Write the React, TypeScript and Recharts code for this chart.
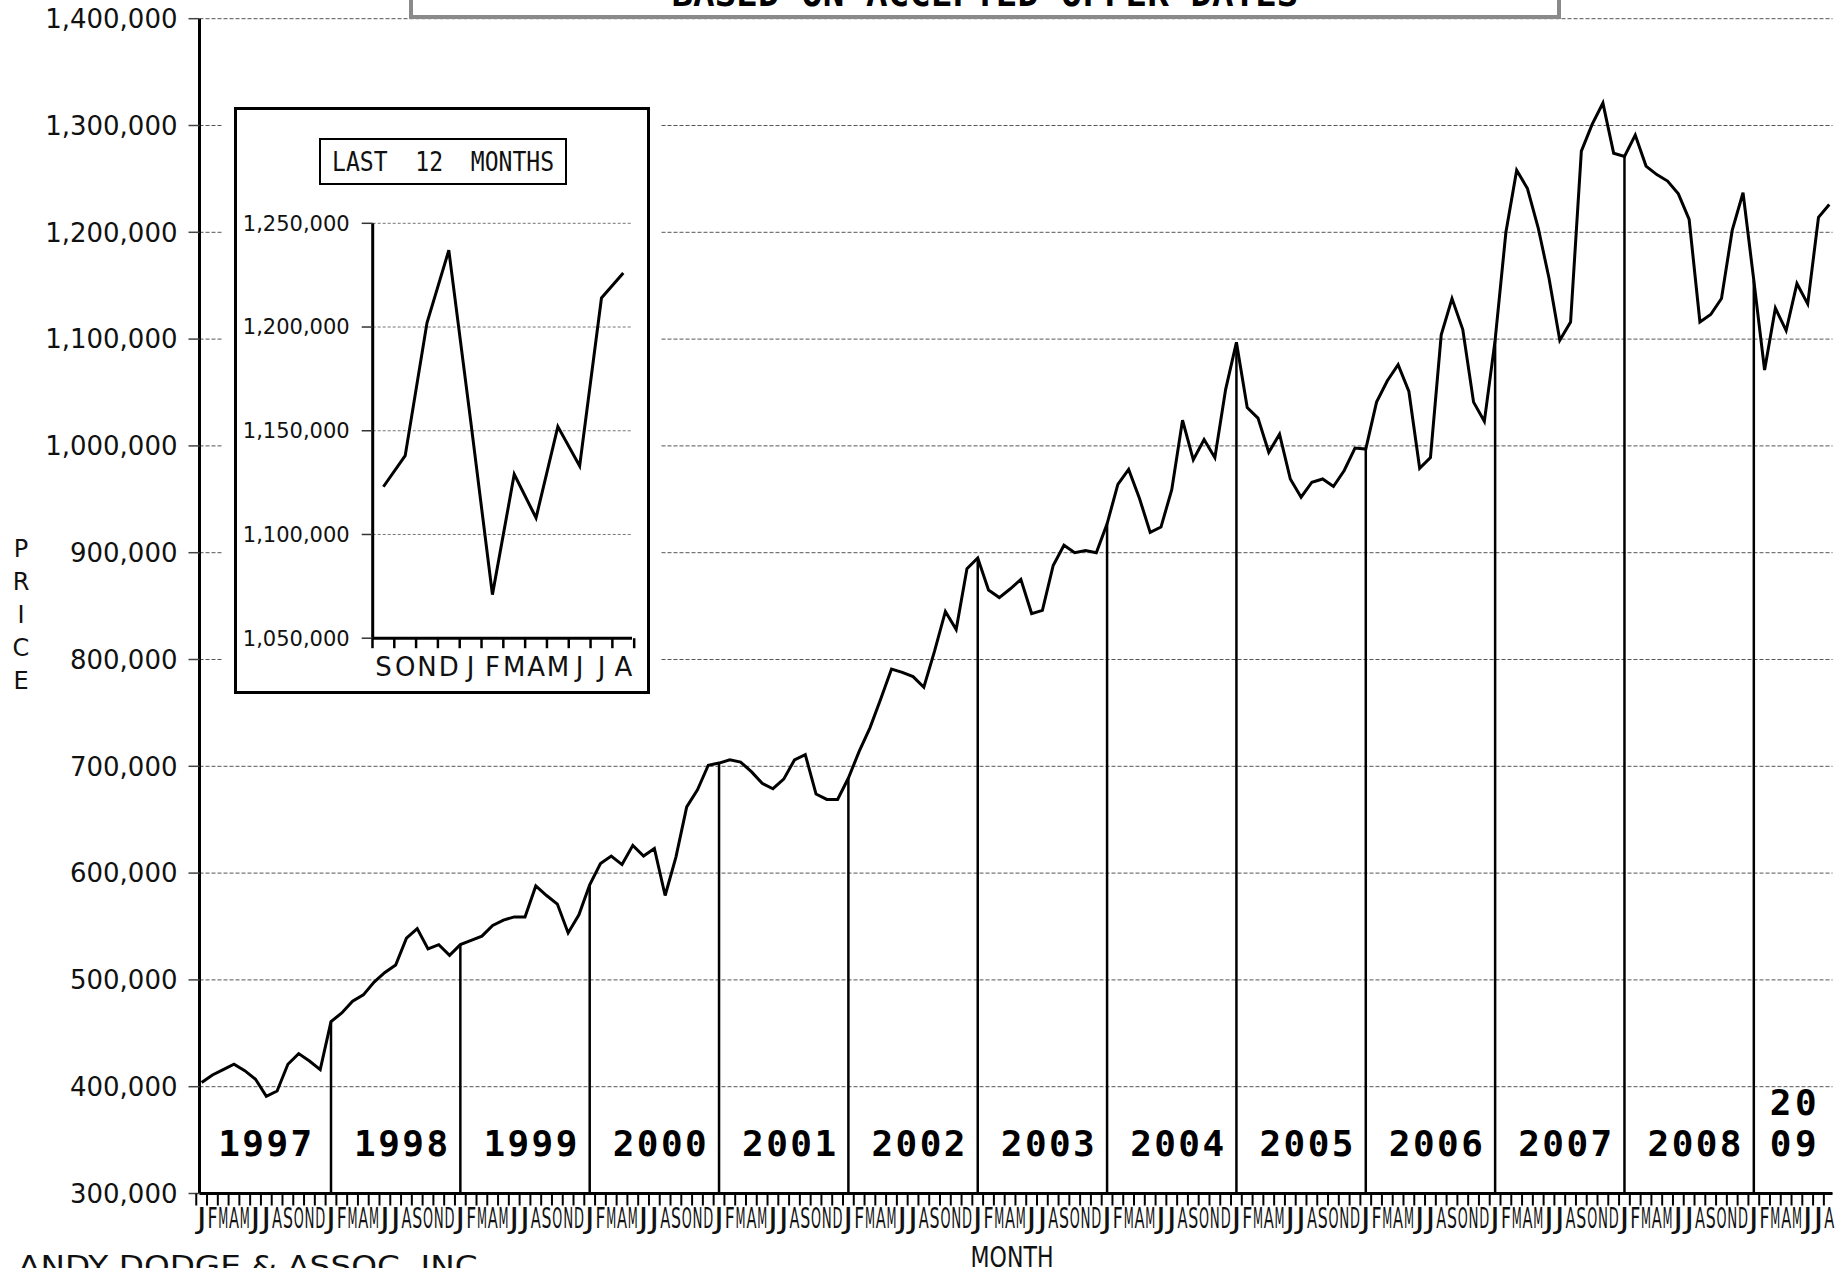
import React from "react";
import {
  ComposedChart,
  LineChart,
  Line,
  Scatter,
  XAxis,
  YAxis,
  CartesianGrid,
  ReferenceLine,
} from "recharts";

// monthly median price, Jan 1997 .. Aug 2009
const monthLetters = ["J", "F", "M", "A", "M", "J", "J", "A", "S", "O", "N", "D"];
const years = [1997, 1998, 1999, 2000, 2001, 2002, 2003, 2004, 2005, 2006, 2007, 2008, 2009];
const prices = [
  404000, 411000, 416000, 421000, 415000, 407000, 391000, 396000, 421000, 431000, 424000, 416000,
  461000, 469000, 480000, 486000, 498000, 507000, 514000, 539000, 548000, 529000, 533000, 523000,
  533000, 537000, 541000, 551000, 556000, 559000, 559000, 588000, 579000, 571000, 544000, 561000,
  589000, 609000, 616000, 608000, 626000, 616000, 623000, 579000, 615000, 662000, 678000, 701000,
  703000, 706000, 704000, 695000, 684000, 679000, 688000, 706000, 711000, 674000, 669000, 669000,
  689000, 714000, 736000, 763000, 791000, 788000, 784000, 774000, 808000, 845000, 828000, 885000,
  895000, 865000, 858000, 866000, 875000, 843000, 846000, 888000, 907000, 900000, 902000, 900000,
  927000, 964000, 978000, 951000, 919000, 924000, 959000, 1024000, 987000, 1006000, 989000, 1053000,
  1097000, 1036000, 1026000, 994000, 1011000, 969000, 952000, 966000, 969000, 962000, 977000, 998000,
  997000, 1041000, 1061000, 1076000, 1051000, 979000, 989000, 1104000, 1138000, 1109000, 1041000, 1023000,
  1099000, 1200000, 1258000, 1241000, 1204000, 1157000, 1099000, 1116000, 1276000, 1301000, 1321000, 1274000,
  1271000, 1291000, 1262000, 1254000, 1248000, 1236000, 1212000, 1116000, 1123000, 1138000, 1202000, 1237000,
  1155000, 1071000, 1129000, 1108000, 1152000, 1133000, 1214000, 1226000,
];
const yTicks = [300000, 400000, 500000, 600000, 700000, 800000, 900000, 1000000, 1100000, 1200000, 1300000, 1400000];

// inset: last 12 months
const insetLetters = ["S", "O", "N", "D", "J", "F", "M", "A", "M", "J", "J", "A"];
const insetTicks = [1050000, 1100000, 1150000, 1200000, 1250000];

const mainData = prices.map((price, i) => ({ i, price }));
const insetData = prices.slice(-12).map((price, k) => ({ k, price }));

const yearStarts = years.map((year, n) => ({ year, i: n * 12, price: prices[n * 12] }));
const yearLabels = yearStarts.map((s, n) => {
  const from = n === 0 ? -0.2 : s.i;
  const to = n < yearStarts.length - 1 ? yearStarts[n + 1].i : prices.length - 0.7;
  const txt = String(s.year);
  const short = to - from < 10;
  return {
    i: (from + to) / 2 + (n === 0 || short ? 0 : 0.5),
    price: 347000,
    lines: short ? [txt.slice(0, 2), txt.slice(2)] : [txt],
  };
});

const fmt = (v: number) => v.toLocaleString("en-US");
const SANS = "DejaVu Sans";
const MONO = "DejaVu Sans Mono";

function MonthTick({ x, y, payload }: any) {
  return (
    <g>
      <line x1={x - 5.4} x2={x - 5.4} y1={y} y2={y + 12} stroke="#000" strokeWidth={2} />
      <text
        x={x}
        y={y + 34}
        textAnchor="middle"
        fontFamily={SANS}
        fontSize={29}
        fill="#111"
        textLength={10}
        lengthAdjust="spacingAndGlyphs"
      >
        {monthLetters[payload.value % 12]}
      </text>
    </g>
  );
}

function InsetTick({ x, y, payload, index }: any) {
  return (
    <g>
      {index === 0 && (
        <line x1={x - 10.9} x2={x - 10.9} y1={y} y2={y + 10} stroke="#000" strokeWidth={2.5} />
      )}
      <line x1={x + 10.9} x2={x + 10.9} y1={y} y2={y + 10} stroke="#000" strokeWidth={2.5} />
      <text x={x} y={y + 38} textAnchor="middle" fontFamily={SANS} fontSize={26} fill="#111">
        {insetLetters[payload.value]}
      </text>
    </g>
  );
}

function YearLabel({ cx, cy, payload }: any) {
  const lines: string[] = payload.lines;
  return (
    <g>
      {lines.map((t, j) => (
        <text
          key={j}
          x={cx}
          y={cy + 13 - (lines.length - 1 - j) * 41}
          textAnchor="middle"
          fontFamily={MONO}
          fontWeight="bold"
          fontSize={36}
          fill="#000"
          textLength={t.length * 23.5}
          lengthAdjust="spacing"
        >
          {t}
        </text>
      ))}
    </g>
  );
}

function Inset() {
  return (
    <div
      style={{ position: "absolute", left: 223, top: 96, width: 438, height: 609, background: "#fff" }}
    >
      <div
        style={{
          position: "absolute",
          left: 11,
          top: 11,
          width: 416,
          height: 587,
          boxSizing: "border-box",
          border: "3px solid #000",
          background: "#fff",
        }}
      >
        <LineChart
          width={410}
          height={580}
          data={insetData}
          margin={{ top: 113.3, right: 15, bottom: 11.8, left: 0 }}
        >
          <CartesianGrid horizontal vertical={false} stroke="#777" strokeDasharray="3 2" />
          <XAxis
            dataKey="k"
            type="number"
            domain={[-0.49, 11.4]}
            ticks={[0, 1, 2, 3, 4, 5, 6, 7, 8, 9, 10, 11]}
            interval={0}
            height={40}
            tickSize={0}
            tickMargin={0}
            tickLine={false}
            axisLine={{ stroke: "#000", strokeWidth: 3 }}
            tick={(p: any) => <InsetTick {...p} />}
          />
          <YAxis
            type="number"
            domain={[1050000, 1250000]}
            ticks={insetTicks}
            width={135.7}
            tickSize={11}
            tickMargin={12}
            tickFormatter={fmt}
            axisLine={{ stroke: "#000", strokeWidth: 3 }}
            tickLine={{ stroke: "#333", strokeWidth: 1.5 }}
            tick={{ fontFamily: SANS, fontSize: 21, fill: "#111" }}
          />
          <Line
            type="linear"
            dataKey="price"
            stroke="#000"
            strokeWidth={3}
            dot={false}
            isAnimationActive={false}
          />
        </LineChart>
        <div
          style={{
            position: "absolute",
            left: 81.5,
            top: 27.5,
            width: 248,
            height: 47,
            boxSizing: "border-box",
            border: "2px solid #000",
            background: "#fff",
          }}
        >
          <svg width={244} height={43} style={{ position: "absolute", left: 0, top: 0 }}>
            <text
              x={122}
              y={31}
              textAnchor="middle"
              fontFamily={MONO}
              fontSize={26}
              fill="#111"
              textLength={222}
              lengthAdjust="spacingAndGlyphs"
              style={{ whiteSpace: "pre" }}
            >
              {"LAST  12  MONTHS"}
            </text>
          </svg>
        </div>
      </div>
    </div>
  );
}

export default function App() {
  return (
    <div
      style={{
        position: "absolute",
        left: 0,
        top: 0,
        width: 1843,
        height: 1268,
        overflow: "hidden",
        background: "#fff",
      }}
    >
      <ComposedChart
        width={1843}
        height={1268}
        data={mainData}
        margin={{ top: 18.7, right: 10.5, bottom: 34.5, left: 0 }}
      >
        <CartesianGrid horizontal vertical={false} stroke="#555" strokeDasharray="4 2" />
        <XAxis
          dataKey="i"
          type="number"
          domain={[-0.2, 151.3]}
          ticks={mainData.map((d) => d.i)}
          interval={0}
          height={40}
          tickSize={0}
          tickMargin={0}
          tickLine={false}
          axisLine={{ stroke: "#000", strokeWidth: 3 }}
          tick={(p: any) => <MonthTick {...p} />}
        />
        <YAxis
          type="number"
          domain={[300000, 1400000]}
          ticks={yTicks}
          width={199.5}
          tickSize={11}
          tickMargin={11}
          tickFormatter={fmt}
          axisLine={{ stroke: "#000", strokeWidth: 3 }}
          tickLine={{ stroke: "#444", strokeWidth: 1.5 }}
          tick={{ fontFamily: SANS, fontSize: 26, fill: "#111" }}
        />
        {yearStarts.slice(1).map((s) => (
          <ReferenceLine
            key={s.year}
            segment={[
              { x: s.i, y: 300000 },
              { x: s.i, y: s.price },
            ]}
            stroke="#000"
            strokeWidth={2.5}
          />
        ))}
        <Line
          type="linear"
          dataKey="price"
          stroke="#000"
          strokeWidth={3}
          dot={false}
          isAnimationActive={false}
        />
        <Scatter
          data={yearLabels}
          dataKey="price"
          isAnimationActive={false}
          shape={(p: any) => <YearLabel {...p} />}
        />
      </ComposedChart>

      <svg
        width={1843}
        height={1268}
        style={{ position: "absolute", left: 0, top: 0, pointerEvents: "none" }}
      >
        <rect x={411} y={-50} width={1148} height={67} fill="#fff" stroke="#8a8a8a" strokeWidth={4} />
        <text
          x={985}
          y={6}
          textAnchor="middle"
          fontFamily={MONO}
          fontWeight="bold"
          fontSize={36}
          fill="#000"
          textLength={627}
          lengthAdjust="spacingAndGlyphs"
        >
          BASED ON ACCEPTED OFFER DATES
        </text>
        {["P", "R", "I", "C", "E"].map((c, n) => (
          <text
            key={n}
            x={21}
            y={557 + n * 33}
            textAnchor="middle"
            fontFamily={SANS}
            fontSize={24}
            fill="#111"
          >
            {c}
          </text>
        ))}
        <text
          x={1012}
          y={1267}
          textAnchor="middle"
          fontFamily={SANS}
          fontSize={29}
          fill="#111"
          textLength={83}
          lengthAdjust="spacingAndGlyphs"
        >
          MONTH
        </text>
        <text
          x={18}
          y={1276}
          fontFamily={SANS}
          fontSize={28}
          fill="#111"
          textLength={470}
          lengthAdjust="spacingAndGlyphs"
        >
          ANDY DODGE &amp; ASSOC. INC.
        </text>
      </svg>

      <Inset />
    </div>
  );
}
